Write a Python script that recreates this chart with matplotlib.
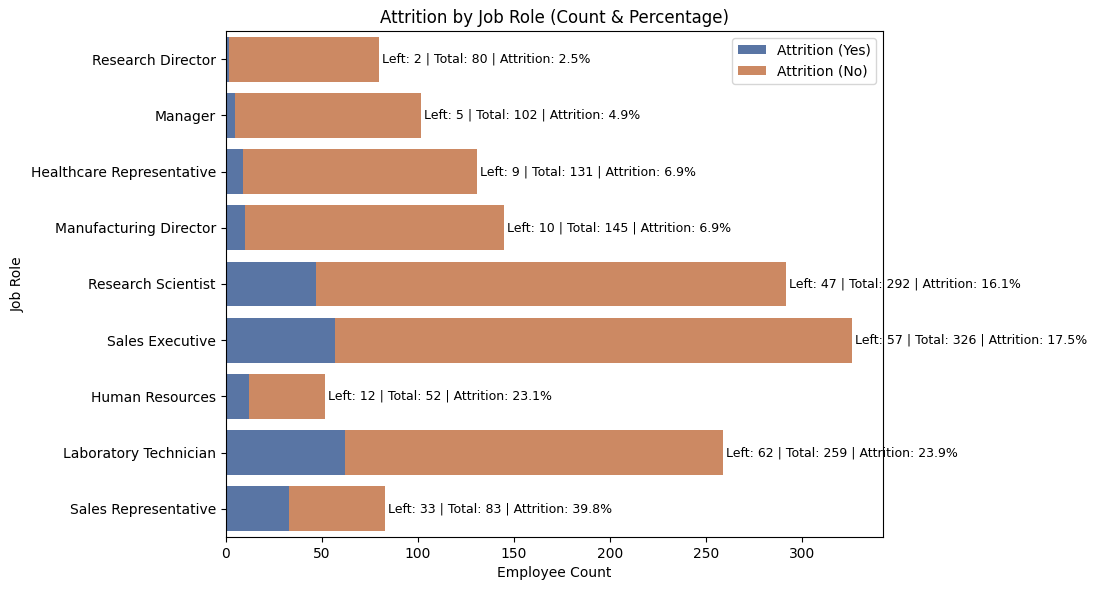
import matplotlib
matplotlib.use("Agg")
import matplotlib.pyplot as plt
import seaborn as sns

roles = ["Research Director", "Manager", "Healthcare Representative",
         "Manufacturing Director", "Research Scientist", "Sales Executive",
         "Human Resources", "Laboratory Technician", "Sales Representative"]
left = [2, 5, 9, 10, 47, 57, 12, 62, 33]
total = [80, 102, 131, 145, 292, 326, 52, 259, 83]
pct = [2.5, 4.9, 6.9, 6.9, 16.1, 17.5, 23.1, 23.9, 39.8]

stayed = [t - l for t, l in zip(total, left)]

blue = sns.desaturate("#4C72B0", 0.75)
orange = sns.desaturate("#DD8452", 0.75)

fig, ax = plt.subplots(figsize=(10.98, 5.9), dpi=100)
ypos = list(range(len(roles)))
ax.barh(ypos, left, height=0.8, color=blue, label="Attrition (Yes)")
ax.barh(ypos, stayed, left=left, height=0.8, color=orange, label="Attrition (No)")

for y, l, t, p in zip(ypos, left, total, pct):
    ax.text(t + 1.5, y, f"Left: {l} | Total: {t} | Attrition: {p}%",
            va="center", ha="left", fontsize=9)

ax.set_yticks(ypos)
ax.set_yticklabels(roles)
ax.set_ylim(len(roles) - 0.5, -0.5)
ax.set_xlim(0, max(total) * 1.05)
ax.set_title("Attrition by Job Role (Count & Percentage)")
ax.set_xlabel("Employee Count")
ax.set_ylabel("Job Role")
ax.legend(loc="upper right")

fig.subplots_adjust(left=0.2054, right=0.8042, top=0.9475, bottom=0.0898)
fig.savefig("out.png")
